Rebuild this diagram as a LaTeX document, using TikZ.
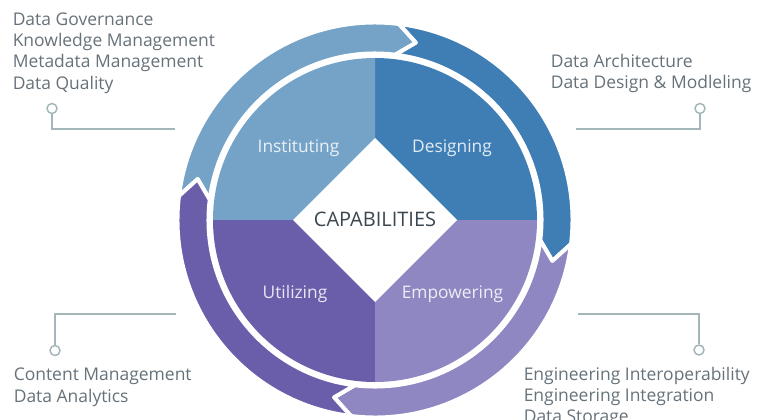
\documentclass[tikz,border=0pt]{standalone}
\usepackage{fontspec}
\setmainfont{Open Sans}
\usepackage{tikz}
\usetikzlibrary{calc}
\definecolor{instcol}{HTML}{75A3C8}
\definecolor{descol}{HTML}{3F7EB4}
\definecolor{utilcol}{HTML}{6A5EAB}
\definecolor{empcol}{HTML}{8F87C1}
\definecolor{textcol}{HTML}{66727A}
\definecolor{capcol}{HTML}{3A4650}
\definecolor{linecol}{HTML}{A3B6B9}
\tikzset{
	arrowband/.style={draw=white, line width=3pt, line join=round},
	sidetext/.style={anchor=north west, inner sep=0pt, align=left, text=textcol, font=\fontsize{13.1}{15.9}\selectfont},
	quarterlabel/.style={anchor=base, text=white, text opacity=.85, font=\fontsize{13}{15}\selectfont},
	pin/.style={circle, draw=linecol, fill=white, line width=1.1pt, minimum size=7.5pt, inner sep=0pt},
	pinline/.style={draw=linecol, line width=1.1pt}
}
\newcommand{\cyclearrow}[3]{
	\draw[arrowband, fill=#1] (#2+6:197.5) arc (#2+6:#3+6:197.5) -- (#3:182) -- (#3+6:166.5) arc (#3+6:#2+6:166.5) -- (#2:182) -- cycle;
}
\newcommand{\capsquarter}[2]{
	\fill[#1] (0,0) -- (#2:162) arc (#2:#2+90:162) -- cycle;
}

\begin{document}
\begin{tikzpicture}[x=.75pt, y=.75pt]
	\useasboundingbox[fill=white] (0,0) rectangle (768,419);
%
	\begin{scope}[shift={(375,199)}]
	\capsquarter{descol}{0}
	\capsquarter{instcol}{90}
	\capsquarter{utilcol}{180}
	\capsquarter{empcol}{270}
	\fill[white] (82,0) -- (0,82) -- (-82,0) -- (0,-82) -- cycle;
%
	\cyclearrow{instcol}{167}{77}
	\cyclearrow{descol}{77}{-13}
	\cyclearrow{empcol}{-13}{-103}
	\cyclearrow{utilcol}{257}{167}
%
	\node[anchor=base, text=capcol, font=\fontsize{15}{18}\selectfont] (caps) at (0,-6) {CAPABILITIES};
	\node[quarterlabel] (inst) at (-76.5,68) {Instituting};
	\node[quarterlabel] (des) at (77,68) {Designing};
	\node[quarterlabel] (util) at (-80,-78) {Utilizing};
	\node[quarterlabel] (emp) at (77.5,-78) {Empowering};
	\end{scope}
%
	\node[sidetext] (govtext) at (12.5,406.5) {Data Governance\\Knowledge Management\\Metadata Management\\Data Quality};
	\node[sidetext] (archtext) at (550.5,365) {Data Architecture\\Data Design \& Modleling};
	\node[sidetext] (conttext) at (13.5,51) {Content Management\\Data Analytics};
	\node[sidetext] (engtext) at (523.5,52) {Engineering Interoperability\\Engineering Integration\\Data Storage};
%
	\node[pin] (govpin) at (52,310.5) {};
	\node[pin] (archpin) at (700,310.5) {};
	\node[pin] (contpin) at (55,68.5) {};
	\node[pin] (engpin) at (699,69) {};
	\coordinate (govend) at (175,290);
	\coordinate (archend) at (576,290);
	\coordinate (contend) at (176,105);
	\coordinate (engend) at (578,105);
	\draw[pinline] (govpin) |- (govend);
	\draw[pinline] (archpin) |- (archend);
	\draw[pinline] (contpin) |- (contend);
	\draw[pinline] (engpin) |- (engend);
%	\node at (375,199) {};
\end{tikzpicture}
\end{document}
